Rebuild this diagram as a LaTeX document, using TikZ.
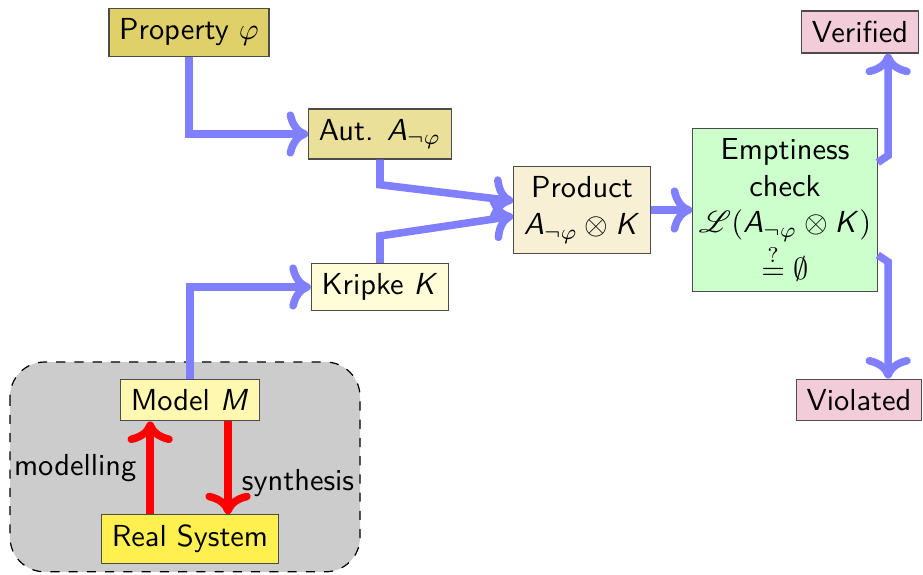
\documentclass[tikz,border=0pt]{standalone}
\usepackage{mathrsfs}
\usetikzlibrary{arrows.meta, positioning}

\DeclareMathAlphabet{\mathsfit}{OT1}{cmss}{m}{sl}

\definecolor{propfill}{RGB}{224,208,106}
\definecolor{autfill}{RGB}{234,224,154}
\definecolor{prodfill}{RGB}{247,240,213}
\definecolor{kripkefill}{RGB}{255,252,216}
\definecolor{modelfill}{RGB}{255,248,176}
\definecolor{realfill}{RGB}{255,240,80}
\definecolor{emptfill}{RGB}{204,255,204}
\definecolor{resultfill}{RGB}{242,204,216}

\begin{document}
\begin{tikzpicture}[
  font=\sffamily,
  box/.style={rectangle, draw=black!70, align=center},
  flow/.style={->, line width=2.5pt, blue!50},
  refine/.style={->, line width=2.5pt, red}
]
\useasboundingbox (0,0) rectangle (10.67,-6.636);

% environment of the system
\draw[dashed, fill=gray!40, rounded corners=0.4cm] (0.116,-4.185) rectangle (4.162,-6.61);

\node[box, fill=propfill] (prop) at (2.185,-0.376) {Property $\varphi$};
\node[box, fill=autfill] (aut) at (4.393,-1.549) {Aut. $\mathsfit{A}_{\neg\varphi}$};
\node[box, fill=kripkefill] (kripke) at (4.393,-3.318) {Kripke $\mathsfit{K}$};
\node[box, fill=prodfill] (prod) at (6.728,-2.428) {Product\\$\mathsfit{A}_{\neg\varphi}\otimes\mathsfit{K}$};
\node[box, fill=emptfill, inner xsep=2pt] (empt) at (9.075,-2.428) {Emptiness\\check\\$\mathscr{L}(\mathsfit{A}_{\neg\varphi}\otimes\mathsfit{K})$\\$\stackrel{?}{=}\emptyset$};
\node[box, fill=resultfill] (verif) at (9.942,-0.370) {Verified};
\node[box, fill=resultfill] (viol) at (9.930,-4.624) {Violated};
\node[box, fill=modelfill] (model) at (2.196,-4.624) {Model $\mathsfit{M}$};
\node[box, fill=realfill] (real) at (2.196,-6.231) {Real System};

\draw[flow] (prop.south) |- (aut.west);
\draw[flow] (aut.south) -- ++(0,-0.29) -- ([yshift=3pt]prod.west);
\draw[flow] (kripke.north) -- ++(0,0.31) -- ([yshift=-2pt]prod.west);
\draw[flow] (model.north) |- (kripke.west);
\draw[flow] (prod) -- (empt);
\draw[flow] ([yshift=0.55cm]empt.east) -- ++(0.12,0.08) coordinate (upturn) -- (upturn |- verif.south);
\draw[flow] ([yshift=-0.52cm]empt.east) -- ++(0.12,-0.08) coordinate (downturn) -- (downturn |- viol.north);

\draw[refine] ([xshift=-0.46cm]real.north) -- node[left, text=black] {modelling} ([xshift=-0.46cm]model.south);
\draw[refine] ([xshift=0.44cm]model.south) -- node[right, text=black, pos=0.66] {synthesis} ([xshift=0.44cm]real.north);

\end{tikzpicture}
\end{document}
